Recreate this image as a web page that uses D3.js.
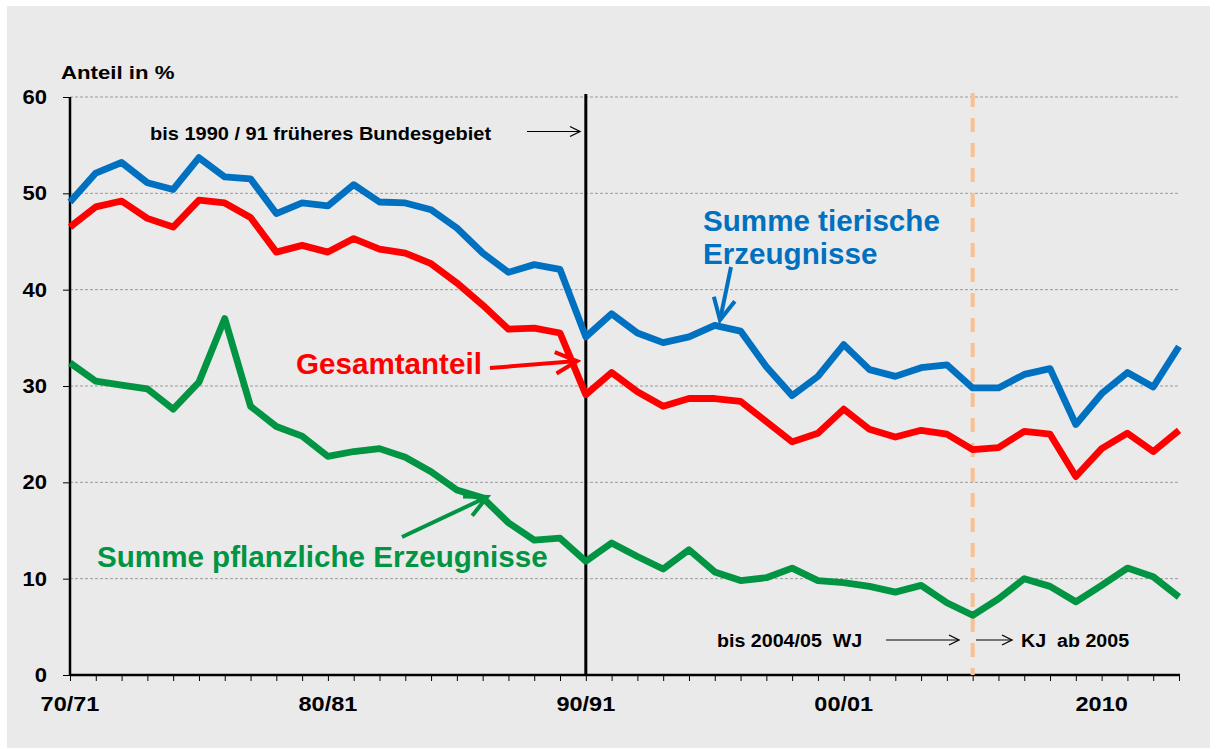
<!DOCTYPE html>
<html>
<head>
<meta charset="utf-8">
<script src="https://cdn.jsdelivr.net/npm/d3@7"></script>
<style>
  body { margin: 0; background: #fff; }
  text { font-family: "Liberation Sans", Arial, sans-serif; font-weight: bold; white-space: pre; }
</style>
</head>
<body>
<div id="chart"></div>
<script>
// categories: Wirtschaftsjahre bis 2004/05, danach Kalenderjahre
var years = ["70/71","71/72","72/73","73/74","74/75","75/76","76/77","77/78","78/79","79/80",
  "80/81","81/82","82/83","83/84","84/85","85/86","86/87","87/88","88/89","89/90",
  "90/91","91/92","92/93","93/94","94/95","95/96","96/97","97/98","98/99","99/00",
  "00/01","01/02","02/03","03/04","04/05","2005","2006","2007","2008","2009",
  "2010","2011","2012","2013"];
var xLabels = ["70/71","80/81","90/91","00/01","2010"];
var yTicks = [0, 10, 20, 30, 40, 50, 60];

// Anteil in %
var tierisch = [49.1,52.1,53.2,51.1,50.4,53.7,51.7,51.5,47.9,49.0,
  48.7,50.9,49.1,49.0,48.3,46.4,43.8,41.8,42.6,42.1,
  35.1,37.5,35.5,34.5,35.1,36.3,35.7,32.0,29.0,31.0,
  34.3,31.7,31.0,31.9,32.2,29.8,29.8,31.2,31.8,26.0,
  29.2,31.4,29.9,34.1];
var gesamt = [46.5,48.6,49.2,47.4,46.5,49.3,49.0,47.5,43.9,44.6,
  43.9,45.3,44.2,43.8,42.7,40.7,38.4,35.9,36.0,35.5,
  29.1,31.4,29.4,27.9,28.7,28.7,28.4,26.3,24.2,25.1,
  27.6,25.5,24.7,25.4,25.0,23.4,23.6,25.3,25.0,20.6,
  23.5,25.1,23.2,25.4];
var pflanzlich = [32.4,30.5,30.1,29.7,27.6,30.4,37.0,27.9,25.8,24.8,
  22.7,23.2,23.5,22.6,21.1,19.2,18.4,15.8,14.0,14.2,
  11.8,13.7,12.3,11.0,13.0,10.7,9.8,10.1,11.1,9.8,
  9.6,9.2,8.6,9.3,7.5,6.2,7.9,10.0,9.2,7.6,
  9.3,11.1,10.2,8.1];

var width = 1216, height = 749;

var svg = d3.select("#chart")
  .append("svg")
  .attr("width", width)
  .attr("height", height);

// grey panel
svg.append("rect")
  .attr("x", 7).attr("y", 6)
  .attr("width", 1203).attr("height", 742)
  .attr("fill", "#eaeaea");

var x = d3.scalePoint()
  .domain(years)
  .range([70, 1179]);

var y = d3.scaleLinear()
  .domain([0, 60])
  .range([675, 97]);

// arrow markers
var defs = svg.append("defs");
function addMarker(id, color, size, sw) {
  defs.append("marker")
    .attr("id", id)
    .attr("viewBox", "-12 -7 14 14")
    .attr("refX", 0).attr("refY", 0)
    .attr("markerUnits", "userSpaceOnUse")
    .attr("markerWidth", size).attr("markerHeight", size)
    .attr("orient", "auto")
    .append("path")
    .attr("d", "M-10,-5L0,0L-10,5")
    .attr("fill", "none")
    .attr("stroke", color)
    .attr("stroke-width", sw);
}
addMarker("arrBlack", "#000", 14, 1.3);
addMarker("arrBlue", "#0070c0", 30, 1.9);
addMarker("arrRed", "#ff0000", 30, 1.9);
addMarker("arrGreen", "#009443", 30, 1.9);

// gridlines
svg.append("g")
  .selectAll("line")
  .data(yTicks.filter(d => d > 0))
  .join("line")
  .attr("x1", 70).attr("x2", 1180)
  .attr("y1", d => y(d)).attr("y2", d => y(d))
  .attr("stroke", "#9a9a9a")
  .attr("stroke-width", 1)
  .attr("stroke-dasharray", "3,2");

// Y axis
var yAxis = svg.append("g")
  .attr("transform", "translate(70,0)")
  .call(d3.axisLeft(y).tickValues(yTicks).tickSize(7).tickFormat(""));
yAxis.select(".domain").attr("stroke", "#000").attr("stroke-width", 2.5)
  .attr("d", "M0," + y(60) + "V" + y(0));
yAxis.selectAll(".tick line").attr("stroke", "#000").attr("stroke-width", 1);

svg.append("g")
  .selectAll("text")
  .data(yTicks)
  .join("text")
  .attr("transform", d => "translate(47," + (y(d) + 7) + ") scale(1.1,1)")
  .attr("text-anchor", "end")
  .attr("font-size", 20)
  .attr("fill", "#000")
  .text(d => d);

// X axis
var xAxis = svg.append("g")
  .attr("transform", "translate(0," + y(0) + ")")
  .call(d3.axisBottom(x).tickSize(6).tickFormat(""));
xAxis.select(".domain").attr("stroke", "#000").attr("stroke-width", 2.5)
  .attr("d", "M70,0H1180");
xAxis.selectAll(".tick line").attr("stroke", "#000").attr("stroke-width", 1);

svg.append("g")
  .selectAll("text")
  .data(xLabels)
  .join("text")
  .attr("transform", d => "translate(" + x(d) + ",711) scale(1.12,1)")
  .attr("text-anchor", "middle")
  .attr("font-size", 21)
  .attr("fill", "#000")
  .text(d => d);

// Anteil in %
svg.append("text")
  .attr("transform", "translate(61,79) scale(1.2,1)")
  .attr("font-size", 18.5)
  .text("Anteil in %");

// separator lines
svg.append("line")
  .attr("x1", x("90/91")).attr("x2", x("90/91"))
  .attr("y1", 94).attr("y2", y(0))
  .attr("stroke", "#000").attr("stroke-width", 3);

svg.append("line")
  .attr("x1", x("2005")).attr("x2", x("2005"))
  .attr("y1", 93).attr("y2", y(0))
  .attr("stroke", "#fac08f").attr("stroke-width", 4)
  .attr("stroke-dasharray", "14,11");

// series lines
var series = [
  { name: "tierisch", values: tierisch, color: "#0070c0" },
  { name: "gesamt", values: gesamt, color: "#ff0000" },
  { name: "pflanzlich", values: pflanzlich, color: "#009443" }
];

var line = d3.line()
  .x((d, i) => x(years[i]))
  .y(d => y(d));

svg.append("g")
  .selectAll("path")
  .data(series)
  .join("path")
  .attr("fill", "none")
  .attr("stroke", d => d.color)
  .attr("stroke-width", 6.8)
  .attr("stroke-linejoin", "round")
  .attr("d", d => line(d.values));

// annotations
function label(txt, px, py, size, sx, color) {
  svg.append("text")
    .attr("transform", "translate(" + px + "," + py + ") scale(" + sx + ",1)")
    .attr("font-size", size)
    .attr("fill", color)
    .text(txt);
}
function arrow(x1, y1, x2, y2, color, w, marker) {
  svg.append("line")
    .attr("x1", x1).attr("y1", y1)
    .attr("x2", x2).attr("y2", y2)
    .attr("stroke", color)
    .attr("stroke-width", w)
    .attr("marker-end", "url(#" + marker + ")");
}

label("bis 1990 / 91 früheres Bundesgebiet", 150, 140, 17.7, 1.13, "#000");
arrow(527, 131.5, 580, 131.5, "#000", 1.2, "arrBlack");

label("bis 2004/05  WJ", 717, 647, 17.7, 1.11, "#000");
arrow(886, 640, 959, 640, "#000", 1.2, "arrBlack");
arrow(976, 640, 1012, 640, "#000", 1.2, "arrBlack");
label("KJ  ab 2005", 1021, 647, 17.7, 1.11, "#000");

label("Summe tierische", 703, 231, 29.6, 1, "#0070c0");
label("Erzeugnisse", 703, 264, 29.6, 1, "#0070c0");
arrow(731, 267, 720, 320, "#0070c0", 4, "arrBlue");

label("Gesamtanteil", 296, 374, 29.6, 1, "#ff0000");
arrow(490, 368, 577, 361, "#ff0000", 4, "arrRed");

label("Summe pflanzliche Erzeugnisse", 97, 567, 29.6, 1, "#009443");
arrow(402, 537, 487, 497, "#009443", 4, "arrGreen");
</script>
</body>
</html>
